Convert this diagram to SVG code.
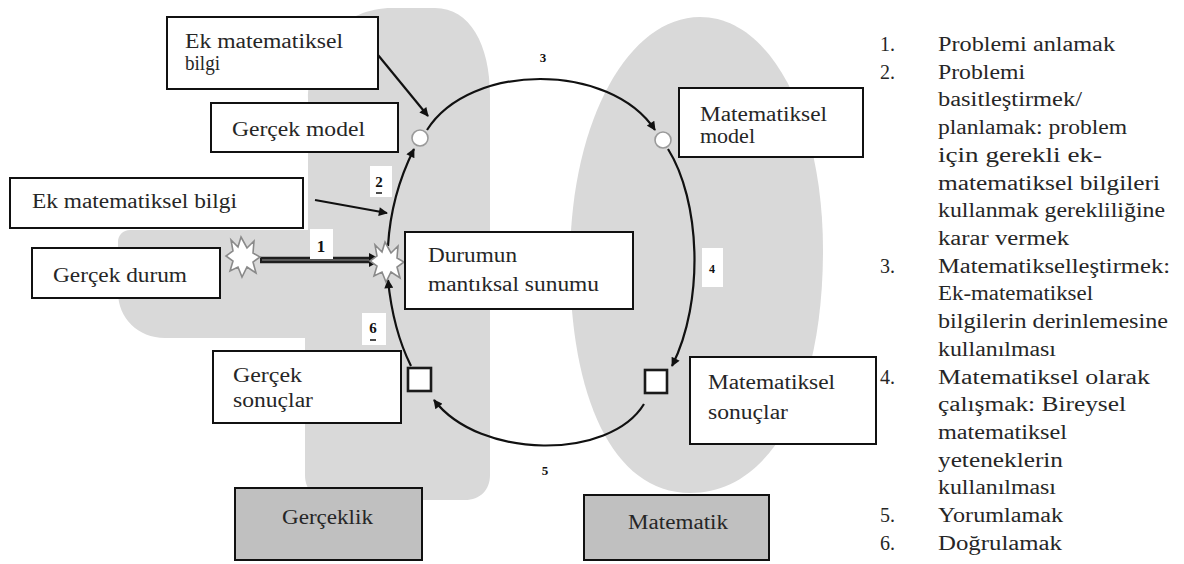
<svg xmlns="http://www.w3.org/2000/svg" width="1184" height="564" viewBox="0 0 1184 564">
  <style>
    .zone { fill: #d9d9d9; stroke: none; }
    .box { fill: #ffffff; stroke: #111111; stroke-width: 2; }
    .realm { fill: #c0c0c0; stroke: #111111; stroke-width: 2; }
    .txt { font-family: "Liberation Serif", "Times New Roman", Times, serif; font-size: 20px; fill: #262626; }
    .list { font-family: "Liberation Serif", "Times New Roman", Times, serif; font-size: 20px; fill: #262626; }
    .num { font-family: "Liberation Serif", "Times New Roman", Times, serif; font-weight: bold; fill: #111111; }
    .flow { fill: none; stroke: #111111; stroke-width: 2.2; }
    .lab { fill: #ffffff; stroke: none; }
    .star { fill: #ffffff; stroke: #8a8a8a; stroke-width: 1.6; }
    .dot { fill: #ffffff; stroke: #9a9a9a; stroke-width: 1.6; }
    .sq { fill: #ffffff; stroke: #1a1a1a; stroke-width: 2.6; }
  </style>
  <defs>
    <marker id="ah" viewBox="0 0 10 10" refX="9" refY="5" markerWidth="11" markerHeight="9" markerUnits="userSpaceOnUse" orient="auto">
      <path d="M0,0 L10,5 L0,10 Z" fill="#111111"/>
    </marker>
    <path id="burst" d="M-2,-20 L4,-9 L11,-16 L10,-4 L17,0 L10,5 L13,16 L4,10 L-1,20 L-5,10 L-13,14 L-10,4 L-17,-1 L-10,-6 L-12,-17 L-5,-10 Z"/>
  </defs>

  <rect width="1184" height="564" fill="#ffffff"/>

  <!-- the two domains: reality (left) and mathematics (right) -->
  <g id="zones">
    <path class="zone" d="M308,100 C308,45 345,8 392,8 L435,8 C470,8 490,45 490,95 L490,475 C490,490 480,500 465,500 L330,500 C315,500 305,490 305,475 L305,338 L165,338 C138,338 118,318 118,292 L118,242 C118,235 123,230 130,230 L308,230 Z"/>
    <path class="zone" d="M700,17 C772,17 823,120 823,250 C823,395 772,493 690,493 C612,493 570,395 570,262 C570,122 628,17 700,17 Z"/>
  </g>

  <!-- cycle and input arrows -->
  <g id="connectors">
    <!-- 1: real situation to its logical representation -->
    <line x1="260" y1="260" x2="372" y2="260" stroke="#1e1e1e" stroke-width="6.5"/>
    <line x1="262" y1="260" x2="370" y2="260" stroke="#6e6e6e" stroke-width="1.3"/>
    <path d="M369,253 L382,260 L369,267 Z" fill="#111111"/>
    <rect class="lab" x="310" y="229" width="23" height="30"/>
    <text class="num" x="321" y="252" font-size="17" text-anchor="middle">1</text>

    <!-- 2 -->
    <path class="flow" d="M388,246 Q391,195 414,149" marker-end="url(#ah)"/>
    <rect class="lab" x="370" y="166" width="22" height="31"/>
    <text class="num" x="379" y="187" font-size="15" text-anchor="middle">2</text>
    <line x1="376" y1="193" x2="382" y2="193" stroke="#111" stroke-width="1.5"/>

    <!-- 3 -->
    <path class="flow" d="M427,130 C470,62 610,62 655,130" marker-end="url(#ah)"/>
    <text class="num" x="543" y="62" font-size="13" text-anchor="middle">3</text>

    <!-- 4 -->
    <path class="flow" d="M668,149 C700,200 705,300 672,366" marker-end="url(#ah)"/>
    <rect class="lab" x="702" y="248" width="21" height="39"/>
    <text class="num" x="712" y="273" font-size="12" text-anchor="middle">4</text>

    <!-- 5 -->
    <path class="flow" d="M644,404 C610,460 480,460 434,400" marker-end="url(#ah)"/>
    <text class="num" x="545" y="475" font-size="13" text-anchor="middle">5</text>

    <!-- 6 -->
    <path class="flow" d="M411,366 Q393,330 388,280" marker-end="url(#ah)"/>
    <rect class="lab" x="362" y="313" width="24" height="32"/>
    <text class="num" x="373" y="333" font-size="15" text-anchor="middle">6</text>
    <line x1="370" y1="340" x2="376" y2="340" stroke="#111" stroke-width="1.5"/>

    <!-- extra-mathematical knowledge feeding in -->
    <line class="flow" x1="378" y1="55" x2="428" y2="116" marker-end="url(#ah)"/>
    <line class="flow" x1="315" y1="200" x2="387" y2="213" marker-end="url(#ah)"/>
  </g>

  <g id="node-ek-bilgi-ust">
    <rect class="box" x="167" y="17" width="211" height="72"/>
    <text class="txt" x="185" y="48" textLength="158" lengthAdjust="spacingAndGlyphs">Ek matematiksel</text>
    <text class="txt" x="185" y="70" textLength="35" lengthAdjust="spacingAndGlyphs">bilgi</text>
  </g>

  <g id="node-gercek-model">
    <rect class="box" x="211" y="103" width="187" height="49"/>
    <text class="txt" x="232" y="136" textLength="133" lengthAdjust="spacingAndGlyphs">Gerçek model</text>
    <circle class="dot" cx="420" cy="138" r="8"/>
  </g>

  <g id="node-ek-bilgi-alt">
    <rect class="box" x="10" y="178" width="293" height="50"/>
    <text class="txt" x="32" y="208" textLength="205" lengthAdjust="spacingAndGlyphs">Ek matematiksel bilgi</text>
  </g>

  <g id="node-gercek-durum">
    <rect class="box" x="32" y="248" width="188" height="50"/>
    <text class="txt" x="53" y="282" textLength="134" lengthAdjust="spacingAndGlyphs">Gerçek durum</text>
    <use href="#burst" class="star" x="243" y="257"/>
  </g>

  <g id="node-durumun-sunumu">
    <use href="#burst" class="star" x="387" y="262"/>
    <rect class="box" x="405" y="232" width="228" height="77"/>
    <text class="txt" x="428" y="262" textLength="89" lengthAdjust="spacingAndGlyphs">Durumun</text>
    <text class="txt" x="428" y="291" textLength="171" lengthAdjust="spacingAndGlyphs">mantıksal sunumu</text>
  </g>

  <g id="node-gercek-sonuclar">
    <rect class="box" x="213" y="351" width="188" height="72"/>
    <text class="txt" x="233" y="382" textLength="69" lengthAdjust="spacingAndGlyphs">Gerçek</text>
    <text class="txt" x="233" y="407" textLength="80" lengthAdjust="spacingAndGlyphs">sonuçlar</text>
    <rect class="sq" x="408" y="368" width="23" height="23"/>
  </g>

  <g id="node-matematiksel-model">
    <rect class="box" x="679" y="88" width="184" height="69"/>
    <text class="txt" x="700" y="121" textLength="127" lengthAdjust="spacingAndGlyphs">Matematiksel</text>
    <text class="txt" x="700" y="143" textLength="55" lengthAdjust="spacingAndGlyphs">model</text>
    <circle class="dot" cx="663" cy="140" r="8"/>
  </g>

  <g id="node-matematiksel-sonuclar">
    <rect class="box" x="690" y="357" width="186" height="87"/>
    <text class="txt" x="708" y="389" textLength="127" lengthAdjust="spacingAndGlyphs">Matematiksel</text>
    <text class="txt" x="708" y="419" textLength="80" lengthAdjust="spacingAndGlyphs">sonuçlar</text>
    <rect class="sq" x="645" y="370" width="22" height="23"/>
  </g>

  <g id="node-gerceklik">
    <rect class="realm" x="235" y="488" width="187" height="72"/>
    <text class="txt" x="282" y="524" textLength="91" lengthAdjust="spacingAndGlyphs">Gerçeklik</text>
  </g>

  <g id="node-matematik">
    <rect class="realm" x="584" y="495" width="185" height="65"/>
    <text class="txt" x="628" y="529" textLength="100" lengthAdjust="spacingAndGlyphs">Matematik</text>
  </g>

  <!-- numbered list of the modelling steps -->
  <g id="steps" class="list">
    <text x="880" y="51">1.</text>
    <text x="938" y="51" textLength="177" lengthAdjust="spacingAndGlyphs">Problemi anlamak</text>
    <text x="880" y="79">2.</text>
    <text x="938" y="79" textLength="87" lengthAdjust="spacingAndGlyphs">Problemi</text>
    <text x="938" y="106" textLength="144" lengthAdjust="spacingAndGlyphs">basitleştirmek/</text>
    <text x="938" y="134" textLength="189" lengthAdjust="spacingAndGlyphs">planlamak: problem</text>
    <text x="938" y="162" textLength="164" lengthAdjust="spacingAndGlyphs">için gerekli ek-</text>
    <text x="938" y="190" textLength="222" lengthAdjust="spacingAndGlyphs">matematiksel bilgileri</text>
    <text x="938" y="217" textLength="227" lengthAdjust="spacingAndGlyphs">kullanmak gerekliliğine</text>
    <text x="938" y="245" textLength="131" lengthAdjust="spacingAndGlyphs">karar vermek</text>
    <text x="880" y="273">3.</text>
    <text x="938" y="273" textLength="232" lengthAdjust="spacingAndGlyphs">Matematikselleştirmek:</text>
    <text x="938" y="300" textLength="155" lengthAdjust="spacingAndGlyphs">Ek-matematiksel</text>
    <text x="938" y="328" textLength="230" lengthAdjust="spacingAndGlyphs">bilgilerin derinlemesine</text>
    <text x="938" y="356" textLength="118" lengthAdjust="spacingAndGlyphs">kullanılması</text>
    <text x="880" y="384">4.</text>
    <text x="938" y="384" textLength="212" lengthAdjust="spacingAndGlyphs">Matematiksel olarak</text>
    <text x="938" y="411" textLength="188" lengthAdjust="spacingAndGlyphs">çalışmak: Bireysel</text>
    <text x="938" y="439" textLength="129" lengthAdjust="spacingAndGlyphs">matematiksel</text>
    <text x="938" y="467" textLength="125" lengthAdjust="spacingAndGlyphs">yeteneklerin</text>
    <text x="938" y="494" textLength="118" lengthAdjust="spacingAndGlyphs">kullanılması</text>
    <text x="880" y="522">5.</text>
    <text x="938" y="522" textLength="125" lengthAdjust="spacingAndGlyphs">Yorumlamak</text>
    <text x="880" y="550">6.</text>
    <text x="938" y="550" textLength="124" lengthAdjust="spacingAndGlyphs">Doğrulamak</text>
  </g>
</svg>
